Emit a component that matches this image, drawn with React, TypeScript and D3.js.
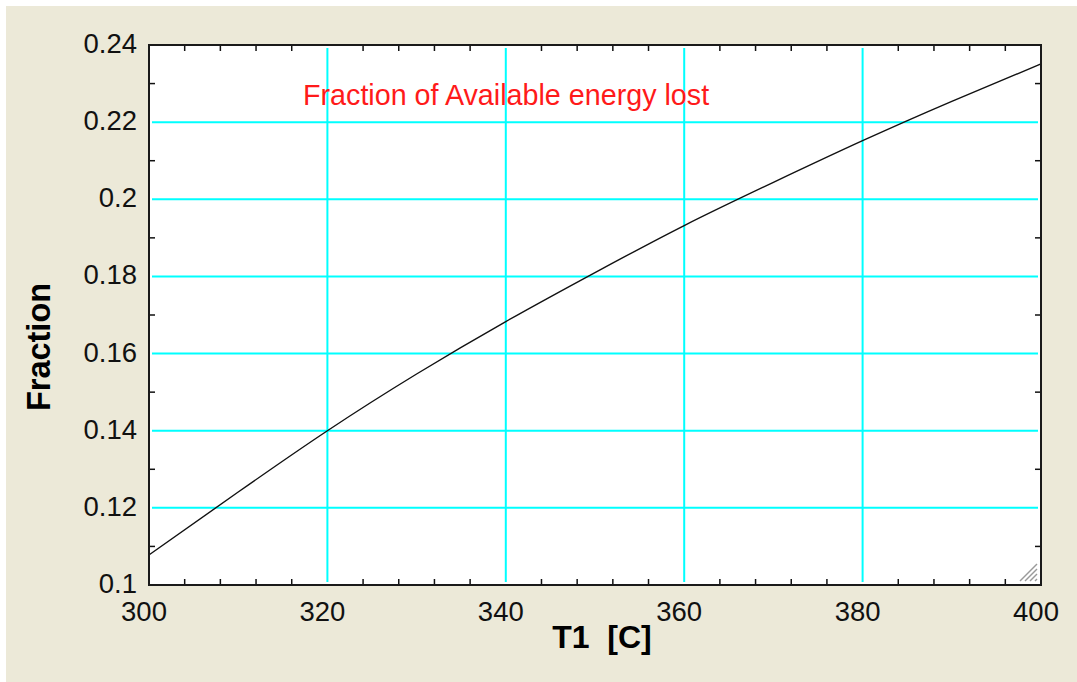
import React, { useEffect, useRef } from 'react';
import * as d3 from 'd3';

// T1 [C] and the fraction of available energy lost
const T1 = [300, 310, 320, 330, 340, 350, 360, 370, 380, 390, 400];
const FRACTION = [0.1078, 0.1241, 0.14, 0.1547, 0.1683, 0.181, 0.1932, 0.2044, 0.2152, 0.2254, 0.2351];

const X_TICKS = [300, 320, 340, 360, 380, 400];
const X_LABELS = ['300', '320', '340', '360', '380', '400'];
const Y_TICKS = [0.1, 0.12, 0.14, 0.16, 0.18, 0.2, 0.22, 0.24];
const Y_LABELS = ['0.1', '0.12', '0.14', '0.16', '0.18', '0.2', '0.22', '0.24'];

const CHART_TITLE = 'Fraction of Available energy lost';
const X_TITLE = 'T1  [C]';
const Y_TITLE = 'Fraction';

const App = () => {
  const ref = useRef<HTMLDivElement>(null);

  useEffect(() => {
    const W = 1077;
    const H = 682;
    const plot = { left: 149, right: 1041, top: 45, bottom: 585 };
    const font = "'Liberation Sans', Arial, sans-serif";

    const x = d3.scaleLinear().domain([300, 400]).range([plot.left, plot.right]);
    const y = d3.scaleLinear().domain([0.1, 0.24]).range([plot.bottom, plot.top]);

    d3.select(ref.current).select('svg').remove();

    const svg = d3.select(ref.current).append('svg')
      .attr('width', W)
      .attr('height', H)
      .style('display', 'block');

    // window background
    svg.append('rect').attr('width', W).attr('height', H).attr('fill', '#ffffff');
    svg.append('rect').attr('x', 6).attr('y', 6).attr('width', W - 6).attr('height', H - 6).attr('fill', '#ECE9D8');

    // plot area
    svg.append('rect')
      .attr('x', plot.left).attr('y', plot.top)
      .attr('width', plot.right - plot.left).attr('height', plot.bottom - plot.top)
      .attr('fill', '#ffffff');

    // grid
    const grid = svg.append('g').attr('stroke', '#00FFFF').attr('stroke-width', 2);
    grid.selectAll('.vgrid')
      .data(X_TICKS.slice(1, -1))
      .enter().append('line')
      .attr('x1', d => x(d)).attr('x2', d => x(d))
      .attr('y1', plot.top + 3).attr('y2', plot.bottom - 3);
    grid.selectAll('.hgrid')
      .data(Y_TICKS.slice(1, -1))
      .enter().append('line')
      .attr('y1', d => y(d)).attr('y2', d => y(d))
      .attr('x1', plot.left + 3).attr('x2', plot.right - 3);

    // minor ticks, drawn inward on all four sides
    const xMinor = d3.range(300, 400, 4).filter(d => d % 20 !== 0);
    const yMinor = d3.range(0.11, 0.24, 0.02);
    const ticks = svg.append('g').attr('stroke', '#111').attr('stroke-width', 1.5);
    xMinor.forEach(d => {
      ticks.append('line').attr('x1', x(d)).attr('x2', x(d)).attr('y1', plot.bottom).attr('y2', plot.bottom - 6);
      ticks.append('line').attr('x1', x(d)).attr('x2', x(d)).attr('y1', plot.top).attr('y2', plot.top + 6);
    });
    yMinor.forEach(d => {
      ticks.append('line').attr('y1', y(d)).attr('y2', y(d)).attr('x1', plot.left).attr('x2', plot.left + 6);
      ticks.append('line').attr('y1', y(d)).attr('y2', y(d)).attr('x1', plot.right).attr('x2', plot.right - 6);
    });

    // resize grip in the corner
    const grip = svg.append('g').attr('stroke', '#9a9a9a').attr('stroke-width', 1.5);
    [0, 5, 10, 15].forEach(o => {
      grip.append('line')
        .attr('x1', plot.right - 6 - o).attr('y1', plot.bottom - 4)
        .attr('x2', plot.right - 4).attr('y2', plot.bottom - 6 - o);
    });

    // the curve
    const line = d3.line<number>()
      .x((d, i) => x(T1[i]))
      .y(d => y(d))
      .curve(d3.curveNatural);
    svg.append('path')
      .attr('d', line(FRACTION))
      .attr('fill', 'none')
      .attr('stroke', '#111')
      .attr('stroke-width', 1.4);

    // frame
    svg.append('rect')
      .attr('x', plot.left).attr('y', plot.top)
      .attr('width', plot.right - plot.left).attr('height', plot.bottom - plot.top)
      .attr('fill', 'none')
      .attr('stroke', '#1a1a1a')
      .attr('stroke-width', 2);

    // tick labels
    svg.selectAll('.xlabel')
      .data(X_TICKS)
      .enter().append('text')
      .attr('x', d => x(d) - 5)
      .attr('y', 621)
      .attr('text-anchor', 'middle')
      .style('font-family', font)
      .style('font-size', '27.5px')
      .attr('fill', '#111')
      .text((d, i) => X_LABELS[i]);

    svg.selectAll('.ylabel')
      .data(Y_TICKS)
      .enter().append('text')
      .attr('x', 137)
      .attr('y', d => y(d) + 8)
      .attr('text-anchor', 'end')
      .style('font-family', font)
      .style('font-size', '27.5px')
      .attr('fill', '#111')
      .text((d, i) => Y_LABELS[i]);

    // titles
    svg.append('text')
      .attr('x', 602)
      .attr('y', 648)
      .attr('text-anchor', 'middle')
      .style('font-family', font)
      .style('font-size', '32px')
      .style('font-weight', 'bold')
      .style('white-space', 'pre')
      .attr('fill', '#000')
      .text(X_TITLE);

    svg.append('text')
      .attr('transform', 'translate(50,347) rotate(-90)')
      .attr('text-anchor', 'middle')
      .style('font-family', font)
      .style('font-size', '32.5px')
      .style('font-weight', 'bold')
      .attr('fill', '#000')
      .text(Y_TITLE);

    svg.append('text')
      .attr('x', 303)
      .attr('y', 105)
      .style('font-family', font)
      .style('font-size', '28.7px')
      .attr('fill', '#FF1A1A')
      .text(CHART_TITLE);
  }, []);

  return <div ref={ref} style={{ position: 'absolute', left: 0, top: 0 }}></div>;
};

export default App;
